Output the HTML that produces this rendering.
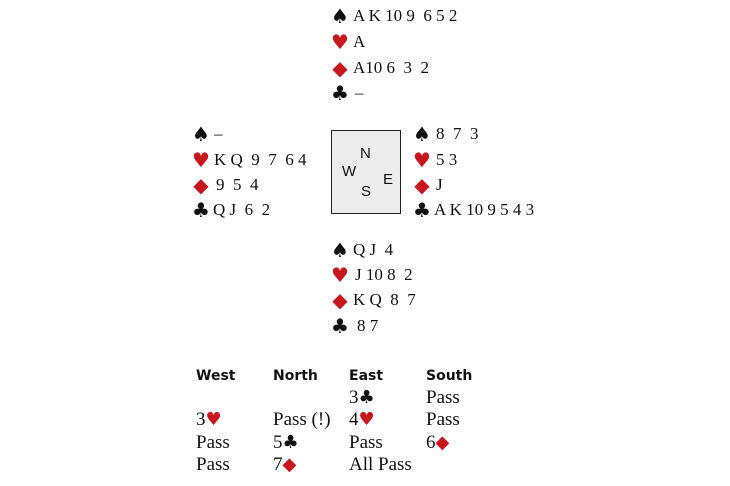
<!DOCTYPE html>
<html><head><meta charset="utf-8"><style>
body{margin:0;width:730px;height:486px;background:#fff;position:relative;overflow:hidden;font-family:"Liberation Serif",serif;color:#111}
.r{position:absolute;font-size:17px;line-height:20px;white-space:pre}
.s{position:absolute;font-family:"DejaVu Sans",sans-serif;font-size:20px;line-height:20px;width:20px;text-align:center}
.red{color:#c8161d}
.d{font-size:20px}
.box{position:absolute;left:331px;top:130px;width:68px;height:82px;border:1.5px solid #222;background:#ececec}
.box span{position:absolute;font-family:"Liberation Sans",sans-serif;font-size:15px}
.h{position:absolute;font-family:"DejaVu Sans",sans-serif;font-weight:bold;font-size:14px;top:368px}
.a{position:absolute;font-size:19px;line-height:20px;white-space:pre}
.a span{font-family:"DejaVu Sans",sans-serif;font-size:18px}
.a span.dd{font-size:18px}
</style></head><body>
<!-- North -->
<div class="s" style="left:330px;top:6px">♠</div><div class="r" style="left:353px;top:6px">A K 10 9  6 5 2</div>
<div class="s red" style="left:330px;top:32px">♥</div><div class="r" style="left:353px;top:32px">A</div>
<div class="s red d" style="left:330px;top:58px">◆</div><div class="r" style="left:353px;top:58px">A10 6  3  2</div>
<div class="s" style="left:330px;top:83px">♣</div><div class="r" style="left:355px;top:83px">–</div>
<!-- West -->
<div class="s" style="left:191px;top:124px">♠</div><div class="r" style="left:214px;top:124px">–</div>
<div class="s red" style="left:191px;top:150px">♥</div><div class="r" style="left:214px;top:150px">K Q  9  7  6 4</div>
<div class="s red d" style="left:191px;top:175px">◆</div><div class="r" style="left:216px;top:175px">9  5  4</div>
<div class="s" style="left:191px;top:200px">♣</div><div class="r" style="left:213px;top:200px">Q J  6  2</div>
<!-- East -->
<div class="s" style="left:412px;top:124px">♠</div><div class="r" style="left:436px;top:124px">8  7  3</div>
<div class="s red" style="left:412px;top:150px">♥</div><div class="r" style="left:436px;top:150px">5 3</div>
<div class="s red d" style="left:412px;top:175px">◆</div><div class="r" style="left:436px;top:175px">J</div>
<div class="s" style="left:412px;top:200px">♣</div><div class="r" style="left:434px;top:200px">A K 10 9 5 4 3</div>
<div class="box"><span style="left:28px;top:14px">N</span><span style="left:10px;top:32px">W</span><span style="left:51px;top:40px">E</span><span style="left:29px;top:52px">S</span></div>
<!-- South -->
<div class="s" style="left:330px;top:240px">♠</div><div class="r" style="left:353px;top:240px">Q J  4</div>
<div class="s red" style="left:330px;top:265px">♥</div><div class="r" style="left:355px;top:265px">J 10 8  2</div>
<div class="s red d" style="left:330px;top:290px">◆</div><div class="r" style="left:353px;top:290px">K Q  8  7</div>
<div class="s" style="left:330px;top:316px">♣</div><div class="r" style="left:357px;top:316px">8 7</div>
<!-- Auction -->
<div class="h" style="left:196px">West</div><div class="h" style="left:273px">North</div><div class="h" style="left:349px">East</div><div class="h" style="left:426px">South</div>
<div class="a" style="left:349px;top:388px">3<span>♣</span></div><div class="a" style="left:426px;top:388px">Pass</div>
<div class="a" style="left:196px;top:410px">3<span class="red">♥</span></div><div class="a" style="left:273px;top:410px">Pass (!)</div><div class="a" style="left:349px;top:410px">4<span class="red">♥</span></div><div class="a" style="left:426px;top:410px">Pass</div>
<div class="a" style="left:196px;top:433px">Pass</div><div class="a" style="left:273px;top:433px">5<span>♣</span></div><div class="a" style="left:349px;top:433px">Pass</div><div class="a" style="left:426px;top:433px">6<span class="red dd">◆</span></div>
<div class="a" style="left:196px;top:455px">Pass</div><div class="a" style="left:273px;top:455px">7<span class="red dd">◆</span></div><div class="a" style="left:349px;top:455px">All Pass</div>
</body></html>
